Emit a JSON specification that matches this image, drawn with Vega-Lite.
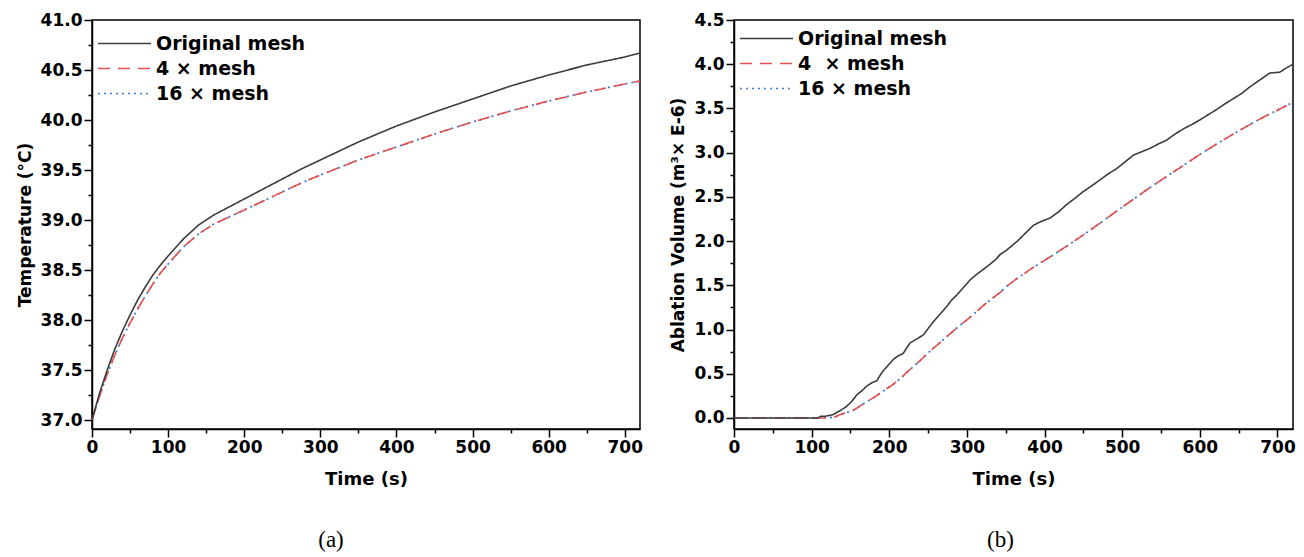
{
  "$schema": "https://vega.github.io/schema/vega-lite/v6.json",
  "padding": {"left": 15, "top": 10, "right": 5, "bottom": 5},
  "spacing": 24,
  "datasets": {
    "temp": [
      {"t": 0, "v": 37.00, "s": "Original mesh"}, {"t": 10, "v": 37.27, "s": "Original mesh"}, {"t": 20, "v": 37.50, "s": "Original mesh"}, {"t": 30, "v": 37.71, "s": "Original mesh"}, {"t": 40, "v": 37.89, "s": "Original mesh"}, {"t": 50, "v": 38.05, "s": "Original mesh"}, {"t": 60, "v": 38.20, "s": "Original mesh"}, {"t": 70, "v": 38.33, "s": "Original mesh"}, {"t": 80, "v": 38.45, "s": "Original mesh"}, {"t": 90, "v": 38.55, "s": "Original mesh"}, {"t": 100, "v": 38.64, "s": "Original mesh"}, {"t": 120, "v": 38.81, "s": "Original mesh"}, {"t": 140, "v": 38.95, "s": "Original mesh"}, {"t": 160, "v": 39.05, "s": "Original mesh"}, {"t": 180, "v": 39.13, "s": "Original mesh"}, {"t": 200, "v": 39.21, "s": "Original mesh"}, {"t": 225, "v": 39.31, "s": "Original mesh"}, {"t": 250, "v": 39.41, "s": "Original mesh"}, {"t": 275, "v": 39.51, "s": "Original mesh"}, {"t": 300, "v": 39.60, "s": "Original mesh"}, {"t": 350, "v": 39.78, "s": "Original mesh"}, {"t": 400, "v": 39.94, "s": "Original mesh"}, {"t": 450, "v": 40.08, "s": "Original mesh"}, {"t": 500, "v": 40.21, "s": "Original mesh"}, {"t": 550, "v": 40.34, "s": "Original mesh"}, {"t": 600, "v": 40.45, "s": "Original mesh"}, {"t": 650, "v": 40.55, "s": "Original mesh"}, {"t": 700, "v": 40.63, "s": "Original mesh"}, {"t": 720, "v": 40.67, "s": "Original mesh"},
      {"t": 0, "v": 37.00, "s": "4 × mesh"}, {"t": 10, "v": 37.24, "s": "4 × mesh"}, {"t": 20, "v": 37.46, "s": "4 × mesh"}, {"t": 30, "v": 37.65, "s": "4 × mesh"}, {"t": 40, "v": 37.82, "s": "4 × mesh"}, {"t": 50, "v": 37.97, "s": "4 × mesh"}, {"t": 60, "v": 38.11, "s": "4 × mesh"}, {"t": 70, "v": 38.24, "s": "4 × mesh"}, {"t": 80, "v": 38.36, "s": "4 × mesh"}, {"t": 90, "v": 38.47, "s": "4 × mesh"}, {"t": 100, "v": 38.56, "s": "4 × mesh"}, {"t": 120, "v": 38.73, "s": "4 × mesh"}, {"t": 140, "v": 38.86, "s": "4 × mesh"}, {"t": 160, "v": 38.96, "s": "4 × mesh"}, {"t": 180, "v": 39.03, "s": "4 × mesh"}, {"t": 200, "v": 39.10, "s": "4 × mesh"}, {"t": 225, "v": 39.19, "s": "4 × mesh"}, {"t": 250, "v": 39.28, "s": "4 × mesh"}, {"t": 275, "v": 39.37, "s": "4 × mesh"}, {"t": 300, "v": 39.45, "s": "4 × mesh"}, {"t": 350, "v": 39.60, "s": "4 × mesh"}, {"t": 400, "v": 39.73, "s": "4 × mesh"}, {"t": 450, "v": 39.86, "s": "4 × mesh"}, {"t": 500, "v": 39.98, "s": "4 × mesh"}, {"t": 550, "v": 40.09, "s": "4 × mesh"}, {"t": 600, "v": 40.19, "s": "4 × mesh"}, {"t": 650, "v": 40.28, "s": "4 × mesh"}, {"t": 700, "v": 40.36, "s": "4 × mesh"}, {"t": 720, "v": 40.39, "s": "4 × mesh"},
      {"t": 0, "v": 37.00, "s": "16 × mesh"}, {"t": 10, "v": 37.24, "s": "16 × mesh"}, {"t": 20, "v": 37.46, "s": "16 × mesh"}, {"t": 30, "v": 37.65, "s": "16 × mesh"}, {"t": 40, "v": 37.82, "s": "16 × mesh"}, {"t": 50, "v": 37.97, "s": "16 × mesh"}, {"t": 60, "v": 38.11, "s": "16 × mesh"}, {"t": 70, "v": 38.24, "s": "16 × mesh"}, {"t": 80, "v": 38.36, "s": "16 × mesh"}, {"t": 90, "v": 38.47, "s": "16 × mesh"}, {"t": 100, "v": 38.56, "s": "16 × mesh"}, {"t": 120, "v": 38.73, "s": "16 × mesh"}, {"t": 140, "v": 38.86, "s": "16 × mesh"}, {"t": 160, "v": 38.96, "s": "16 × mesh"}, {"t": 180, "v": 39.03, "s": "16 × mesh"}, {"t": 200, "v": 39.10, "s": "16 × mesh"}, {"t": 225, "v": 39.19, "s": "16 × mesh"}, {"t": 250, "v": 39.28, "s": "16 × mesh"}, {"t": 275, "v": 39.37, "s": "16 × mesh"}, {"t": 300, "v": 39.45, "s": "16 × mesh"}, {"t": 350, "v": 39.60, "s": "16 × mesh"}, {"t": 400, "v": 39.73, "s": "16 × mesh"}, {"t": 450, "v": 39.86, "s": "16 × mesh"}, {"t": 500, "v": 39.98, "s": "16 × mesh"}, {"t": 550, "v": 40.09, "s": "16 × mesh"}, {"t": 600, "v": 40.19, "s": "16 × mesh"}, {"t": 650, "v": 40.28, "s": "16 × mesh"}, {"t": 700, "v": 40.36, "s": "16 × mesh"}, {"t": 720, "v": 40.39, "s": "16 × mesh"}
    ],
    "vol": [
      {"t": 0, "v": 0, "s": "Original mesh"}, {"t": 108, "v": 0, "s": "Original mesh"}, {"t": 112, "v": 0.02, "s": "Original mesh"}, {"t": 118, "v": 0.02, "s": "Original mesh"}, {"t": 124, "v": 0.03, "s": "Original mesh"}, {"t": 128, "v": 0.04, "s": "Original mesh"}, {"t": 132, "v": 0.06, "s": "Original mesh"}, {"t": 138, "v": 0.09, "s": "Original mesh"}, {"t": 145, "v": 0.13, "s": "Original mesh"}, {"t": 152, "v": 0.19, "s": "Original mesh"}, {"t": 158, "v": 0.26, "s": "Original mesh"}, {"t": 165, "v": 0.31, "s": "Original mesh"}, {"t": 171, "v": 0.36, "s": "Original mesh"}, {"t": 178, "v": 0.40, "s": "Original mesh"}, {"t": 184, "v": 0.42, "s": "Original mesh"}, {"t": 188, "v": 0.48, "s": "Original mesh"}, {"t": 192, "v": 0.53, "s": "Original mesh"}, {"t": 198, "v": 0.59, "s": "Original mesh"}, {"t": 205, "v": 0.66, "s": "Original mesh"}, {"t": 211, "v": 0.70, "s": "Original mesh"}, {"t": 218, "v": 0.73, "s": "Original mesh"}, {"t": 223, "v": 0.80, "s": "Original mesh"}, {"t": 227, "v": 0.85, "s": "Original mesh"}, {"t": 235, "v": 0.89, "s": "Original mesh"}, {"t": 244, "v": 0.94, "s": "Original mesh"}, {"t": 250, "v": 1.01, "s": "Original mesh"}, {"t": 257, "v": 1.09, "s": "Original mesh"}, {"t": 265, "v": 1.17, "s": "Original mesh"}, {"t": 274, "v": 1.26, "s": "Original mesh"}, {"t": 280, "v": 1.33, "s": "Original mesh"}, {"t": 287, "v": 1.39, "s": "Original mesh"}, {"t": 295, "v": 1.47, "s": "Original mesh"}, {"t": 304, "v": 1.56, "s": "Original mesh"}, {"t": 312, "v": 1.62, "s": "Original mesh"}, {"t": 321, "v": 1.68, "s": "Original mesh"}, {"t": 330, "v": 1.74, "s": "Original mesh"}, {"t": 338, "v": 1.80, "s": "Original mesh"}, {"t": 343, "v": 1.85, "s": "Original mesh"}, {"t": 350, "v": 1.89, "s": "Original mesh"}, {"t": 357, "v": 1.94, "s": "Original mesh"}, {"t": 365, "v": 2.00, "s": "Original mesh"}, {"t": 372, "v": 2.06, "s": "Original mesh"}, {"t": 380, "v": 2.13, "s": "Original mesh"}, {"t": 386, "v": 2.18, "s": "Original mesh"}, {"t": 395, "v": 2.22, "s": "Original mesh"}, {"t": 407, "v": 2.26, "s": "Original mesh"}, {"t": 418, "v": 2.33, "s": "Original mesh"}, {"t": 428, "v": 2.41, "s": "Original mesh"}, {"t": 440, "v": 2.49, "s": "Original mesh"}, {"t": 450, "v": 2.56, "s": "Original mesh"}, {"t": 460, "v": 2.62, "s": "Original mesh"}, {"t": 471, "v": 2.69, "s": "Original mesh"}, {"t": 482, "v": 2.76, "s": "Original mesh"}, {"t": 493, "v": 2.82, "s": "Original mesh"}, {"t": 503, "v": 2.89, "s": "Original mesh"}, {"t": 514, "v": 2.97, "s": "Original mesh"}, {"t": 525, "v": 3.01, "s": "Original mesh"}, {"t": 536, "v": 3.05, "s": "Original mesh"}, {"t": 547, "v": 3.10, "s": "Original mesh"}, {"t": 557, "v": 3.14, "s": "Original mesh"}, {"t": 568, "v": 3.21, "s": "Original mesh"}, {"t": 579, "v": 3.27, "s": "Original mesh"}, {"t": 590, "v": 3.32, "s": "Original mesh"}, {"t": 600, "v": 3.37, "s": "Original mesh"}, {"t": 611, "v": 3.43, "s": "Original mesh"}, {"t": 622, "v": 3.49, "s": "Original mesh"}, {"t": 632, "v": 3.55, "s": "Original mesh"}, {"t": 643, "v": 3.61, "s": "Original mesh"}, {"t": 654, "v": 3.67, "s": "Original mesh"}, {"t": 664, "v": 3.74, "s": "Original mesh"}, {"t": 677, "v": 3.82, "s": "Original mesh"}, {"t": 690, "v": 3.90, "s": "Original mesh"}, {"t": 703, "v": 3.91, "s": "Original mesh"}, {"t": 710, "v": 3.95, "s": "Original mesh"}, {"t": 720, "v": 4.00, "s": "Original mesh"},
      {"t": 0, "v": 0, "s": "4\u00a0 × mesh"}, {"t": 120, "v": 0, "s": "4\u00a0 × mesh"}, {"t": 130, "v": 0.01, "s": "4\u00a0 × mesh"}, {"t": 137, "v": 0.04, "s": "4\u00a0 × mesh"}, {"t": 145, "v": 0.06, "s": "4\u00a0 × mesh"}, {"t": 152, "v": 0.08, "s": "4\u00a0 × mesh"}, {"t": 158, "v": 0.11, "s": "4\u00a0 × mesh"}, {"t": 165, "v": 0.15, "s": "4\u00a0 × mesh"}, {"t": 172, "v": 0.19, "s": "4\u00a0 × mesh"}, {"t": 180, "v": 0.23, "s": "4\u00a0 × mesh"}, {"t": 190, "v": 0.29, "s": "4\u00a0 × mesh"}, {"t": 200, "v": 0.35, "s": "4\u00a0 × mesh"}, {"t": 205, "v": 0.38, "s": "4\u00a0 × mesh"}, {"t": 215, "v": 0.45, "s": "4\u00a0 × mesh"}, {"t": 223, "v": 0.52, "s": "4\u00a0 × mesh"}, {"t": 231, "v": 0.58, "s": "4\u00a0 × mesh"}, {"t": 240, "v": 0.65, "s": "4\u00a0 × mesh"}, {"t": 248, "v": 0.72, "s": "4\u00a0 × mesh"}, {"t": 257, "v": 0.79, "s": "4\u00a0 × mesh"}, {"t": 265, "v": 0.85, "s": "4\u00a0 × mesh"}, {"t": 274, "v": 0.92, "s": "4\u00a0 × mesh"}, {"t": 282, "v": 0.98, "s": "4\u00a0 × mesh"}, {"t": 290, "v": 1.04, "s": "4\u00a0 × mesh"}, {"t": 300, "v": 1.11, "s": "4\u00a0 × mesh"}, {"t": 308, "v": 1.17, "s": "4\u00a0 × mesh"}, {"t": 316, "v": 1.23, "s": "4\u00a0 × mesh"}, {"t": 325, "v": 1.30, "s": "4\u00a0 × mesh"}, {"t": 334, "v": 1.36, "s": "4\u00a0 × mesh"}, {"t": 343, "v": 1.42, "s": "4\u00a0 × mesh"}, {"t": 350, "v": 1.48, "s": "4\u00a0 × mesh"}, {"t": 365, "v": 1.58, "s": "4\u00a0 × mesh"}, {"t": 385, "v": 1.70, "s": "4\u00a0 × mesh"}, {"t": 407, "v": 1.82, "s": "4\u00a0 × mesh"}, {"t": 428, "v": 1.94, "s": "4\u00a0 × mesh"}, {"t": 450, "v": 2.07, "s": "4\u00a0 × mesh"}, {"t": 471, "v": 2.20, "s": "4\u00a0 × mesh"}, {"t": 493, "v": 2.34, "s": "4\u00a0 × mesh"}, {"t": 514, "v": 2.47, "s": "4\u00a0 × mesh"}, {"t": 535, "v": 2.60, "s": "4\u00a0 × mesh"}, {"t": 557, "v": 2.73, "s": "4\u00a0 × mesh"}, {"t": 578, "v": 2.85, "s": "4\u00a0 × mesh"}, {"t": 600, "v": 2.98, "s": "4\u00a0 × mesh"}, {"t": 622, "v": 3.10, "s": "4\u00a0 × mesh"}, {"t": 643, "v": 3.21, "s": "4\u00a0 × mesh"}, {"t": 665, "v": 3.32, "s": "4\u00a0 × mesh"}, {"t": 686, "v": 3.42, "s": "4\u00a0 × mesh"}, {"t": 700, "v": 3.48, "s": "4\u00a0 × mesh"}, {"t": 718, "v": 3.56, "s": "4\u00a0 × mesh"},
      {"t": 0, "v": 0, "s": "16 × mesh"}, {"t": 120, "v": 0, "s": "16 × mesh"}, {"t": 130, "v": 0.01, "s": "16 × mesh"}, {"t": 137, "v": 0.04, "s": "16 × mesh"}, {"t": 145, "v": 0.06, "s": "16 × mesh"}, {"t": 152, "v": 0.08, "s": "16 × mesh"}, {"t": 158, "v": 0.11, "s": "16 × mesh"}, {"t": 165, "v": 0.15, "s": "16 × mesh"}, {"t": 172, "v": 0.19, "s": "16 × mesh"}, {"t": 180, "v": 0.23, "s": "16 × mesh"}, {"t": 190, "v": 0.29, "s": "16 × mesh"}, {"t": 200, "v": 0.35, "s": "16 × mesh"}, {"t": 205, "v": 0.38, "s": "16 × mesh"}, {"t": 215, "v": 0.45, "s": "16 × mesh"}, {"t": 223, "v": 0.52, "s": "16 × mesh"}, {"t": 231, "v": 0.58, "s": "16 × mesh"}, {"t": 240, "v": 0.65, "s": "16 × mesh"}, {"t": 248, "v": 0.72, "s": "16 × mesh"}, {"t": 257, "v": 0.79, "s": "16 × mesh"}, {"t": 265, "v": 0.85, "s": "16 × mesh"}, {"t": 274, "v": 0.92, "s": "16 × mesh"}, {"t": 282, "v": 0.98, "s": "16 × mesh"}, {"t": 290, "v": 1.04, "s": "16 × mesh"}, {"t": 300, "v": 1.11, "s": "16 × mesh"}, {"t": 308, "v": 1.17, "s": "16 × mesh"}, {"t": 316, "v": 1.23, "s": "16 × mesh"}, {"t": 325, "v": 1.30, "s": "16 × mesh"}, {"t": 334, "v": 1.36, "s": "16 × mesh"}, {"t": 343, "v": 1.42, "s": "16 × mesh"}, {"t": 350, "v": 1.48, "s": "16 × mesh"}, {"t": 365, "v": 1.58, "s": "16 × mesh"}, {"t": 385, "v": 1.70, "s": "16 × mesh"}, {"t": 407, "v": 1.82, "s": "16 × mesh"}, {"t": 428, "v": 1.94, "s": "16 × mesh"}, {"t": 450, "v": 2.07, "s": "16 × mesh"}, {"t": 471, "v": 2.20, "s": "16 × mesh"}, {"t": 493, "v": 2.34, "s": "16 × mesh"}, {"t": 514, "v": 2.47, "s": "16 × mesh"}, {"t": 535, "v": 2.60, "s": "16 × mesh"}, {"t": 557, "v": 2.73, "s": "16 × mesh"}, {"t": 578, "v": 2.85, "s": "16 × mesh"}, {"t": 600, "v": 2.98, "s": "16 × mesh"}, {"t": 622, "v": 3.10, "s": "16 × mesh"}, {"t": 643, "v": 3.21, "s": "16 × mesh"}, {"t": 665, "v": 3.32, "s": "16 × mesh"}, {"t": 686, "v": 3.42, "s": "16 × mesh"}, {"t": 700, "v": 3.48, "s": "16 × mesh"}, {"t": 718, "v": 3.56, "s": "16 × mesh"}
    ]
  },
  "hconcat": [
    {
      "width": 548,
      "height": 409,
      "data": {"name": "temp"},
      "title": {"text": "(a)", "orient": "bottom", "frame": "group", "anchor": "middle", "dx": -35, "offset": 41},
      "encoding": {
        "x": {"field": "t", "type": "quantitative", "scale": {"domain": [0, 720], "nice": false, "zero": false},
          "axis": {"title": "Time (s)", "values": [0, 50, 100, 150, 200, 250, 300, 350, 400, 450, 500, 550, 600, 650, 700],
            "labelExpr": "datum.value % 100 === 0 ? datum.label : ''",
            "tickSize": {"condition": {"test": "datum.value % 100 === 0", "value": 8}, "value": 4}}},
        "y": {"field": "v", "type": "quantitative", "scale": {"domain": [36.91, 41.0], "nice": false, "zero": false},
          "axis": {"title": "Temperature (°C)", "values": [37, 37.25, 37.5, 37.75, 38, 38.25, 38.5, 38.75, 39, 39.25, 39.5, 39.75, 40, 40.25, 40.5, 40.75, 41],
            "labelExpr": "abs(datum.value*2 - round(datum.value*2)) < 0.001 ? format(datum.value, '.1f') : ''",
            "tickSize": {"condition": {"test": "abs(datum.value*2 - round(datum.value*2)) < 0.001", "value": 8}, "value": 4}}},
        "color": {"field": "s", "type": "nominal", "scale": {"domain": ["Original mesh", "4 × mesh", "16 × mesh"], "range": ["#3c3c3c", "#e4514e", "#3f7ccc"]},
          "legend": {"orient": "none", "legendX": 18, "legendY": 9, "title": null}},
        "strokeDash": {"field": "s", "type": "nominal", "scale": {"domain": ["Original mesh", "4 × mesh", "16 × mesh"], "range": [[1, 0], [12, 8], [2, 4]]},
          "legend": {"orient": "none", "legendX": 18, "legendY": 9, "title": null}}
      },
      "layer": [
        {"transform": [{"filter": "datum.s === '16 × mesh'"}], "mark": {"type": "line", "strokeWidth": 1.8}},
        {"transform": [{"filter": "datum.s === '4 × mesh'"}], "mark": {"type": "line", "strokeWidth": 1.6}},
        {"transform": [{"filter": "datum.s === 'Original mesh'"}], "mark": {"type": "line", "strokeWidth": 1.6}}
      ]
    },
    {
      "width": 559,
      "height": 409,
      "data": {"name": "vol"},
      "title": {"text": "(b)", "orient": "bottom", "frame": "group", "anchor": "middle", "dx": -13, "offset": 41},
      "encoding": {
        "x": {"field": "t", "type": "quantitative", "scale": {"domain": [0, 720], "nice": false, "zero": false},
          "axis": {"title": "Time (s)", "values": [0, 50, 100, 150, 200, 250, 300, 350, 400, 450, 500, 550, 600, 650, 700],
            "labelExpr": "datum.value % 100 === 0 ? datum.label : ''",
            "tickSize": {"condition": {"test": "datum.value % 100 === 0", "value": 8}, "value": 4}}},
        "y": {"field": "v", "type": "quantitative", "scale": {"domain": [-0.125, 4.5], "nice": false, "zero": false},
          "axis": {"title": "Ablation Volume (m³× E-6)", "values": [0, 0.25, 0.5, 0.75, 1, 1.25, 1.5, 1.75, 2, 2.25, 2.5, 2.75, 3, 3.25, 3.5, 3.75, 4, 4.25, 4.5],
            "labelExpr": "abs(datum.value*2 - round(datum.value*2)) < 0.001 ? format(datum.value, '.1f') : ''",
            "tickSize": {"condition": {"test": "abs(datum.value*2 - round(datum.value*2)) < 0.001", "value": 8}, "value": 4}}},
        "color": {"field": "s", "type": "nominal", "scale": {"domain": ["Original mesh", "4\u00a0 × mesh", "16 × mesh"], "range": ["#3c3c3c", "#e4514e", "#3f7ccc"]},
          "legend": {"orient": "none", "legendX": 18, "legendY": 4, "title": null}},
        "strokeDash": {"field": "s", "type": "nominal", "scale": {"domain": ["Original mesh", "4\u00a0 × mesh", "16 × mesh"], "range": [[1, 0], [12, 8], [2, 4]]},
          "legend": {"orient": "none", "legendX": 18, "legendY": 4, "title": null}}
      },
      "layer": [
        {"transform": [{"filter": "datum.s === '16 × mesh'"}], "mark": {"type": "line", "strokeWidth": 1.8}},
        {"transform": [{"filter": "indexof(datum.s, '4') === 0"}], "mark": {"type": "line", "strokeWidth": 1.6}},
        {"transform": [{"filter": "datum.s === 'Original mesh'"}], "mark": {"type": "line", "strokeWidth": 1.6}}
      ]
    }
  ],
  "resolve": {"scale": {"color": "independent", "strokeDash": "independent", "x": "independent", "y": "independent"}, "legend": {"color": "independent", "strokeDash": "independent"}},
  "config": {
    "font": "DejaVu Sans",
    "background": "white",
    "view": {"stroke": "black", "strokeWidth": 1.5},
    "axis": {"grid": false, "domainColor": "black", "domainWidth": 1.5, "tickColor": "black", "tickWidth": 1.5,
      "labelFont": "DejaVu Sans", "labelFontWeight": "bold", "labelFontSize": 17, "labelColor": "black", "labelPadding": 2,
      "titleFont": "DejaVu Sans", "titleFontWeight": "bold", "titleFontSize": 17, "titleColor": "black"},
    "axisX": {"titleFontSize": 18, "titlePadding": 15, "labelFlush": false, "labelOverlap": false},
    "axisY": {"titlePadding": 6, "labelOverlap": false},
    "legend": {"symbolType": "M-2,0H2", "symbolSize": 702, "symbolStrokeWidth": 1.6, "labelFont": "DejaVu Sans", "labelFontWeight": "bold", "labelFontSize": 19, "labelColor": "black", "labelOffset": 17, "rowPadding": 0, "padding": 0},
    "title": {"font": "Liberation Serif", "fontWeight": "normal", "fontSize": 23, "color": "black"}
  }
}
